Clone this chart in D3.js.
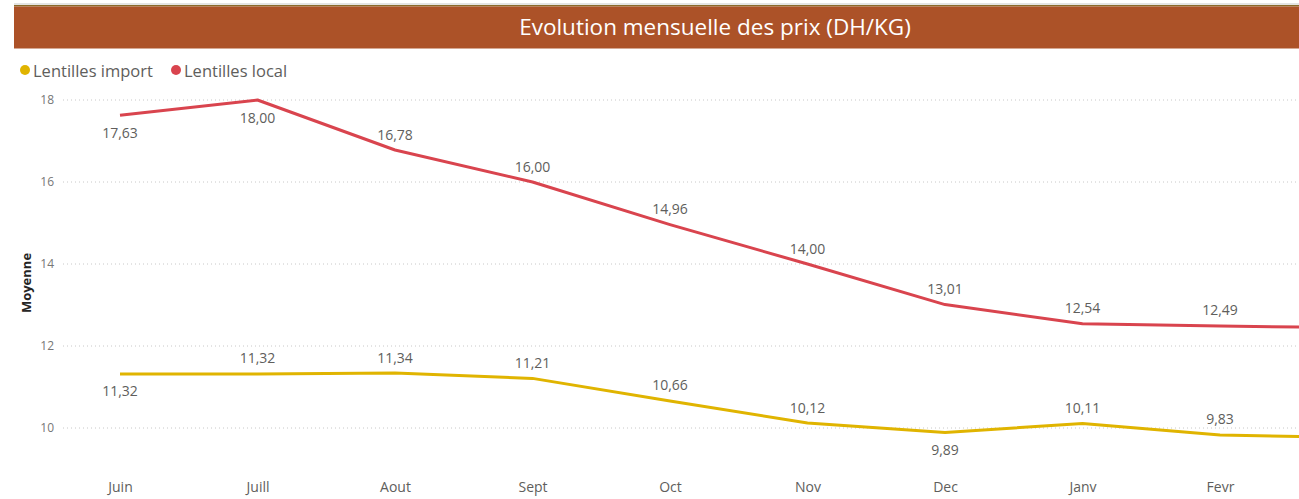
<!DOCTYPE html>
<html>
<head>
<meta charset="utf-8">
<script src="https://cdn.jsdelivr.net/npm/d3@7"></script>
<style>
  body { margin: 0; background: #fff; }
  text { font-family: "Segoe UI", "Open Sans", "Noto Sans", sans-serif; }
</style>
</head>
<body>
<div id="chart"></div>
<script>
// data (last month is cut off at the right edge)
var months = ["Juin", "Juill", "Aout", "Sept", "Oct", "Nov", "Dec", "Janv", "Fevr", "Mars"];
var importPrix = [11.32, 11.32, 11.34, 11.21, 10.66, 10.12, 9.89, 10.11, 9.83, 9.76];
var localPrix = [17.63, 18.00, 16.78, 16.00, 14.96, 14.00, 13.01, 12.54, 12.49, 12.44];
var yTicks = [10, 12, 14, 16, 18];
var seriesNames = ["Lentilles import", "Lentilles local"];
var colors = ["#E0B400", "#D9444E"];
// label placement: 1 = above point, -1 = below
var importPos = [-1, 1, 1, 1, 1, 1, -1, 1, 1, 1];
var localPos = [-1, -1, 1, 1, 1, 1, 1, 1, 1, 1];

var W = 1299, H = 499;
var svg = d3.select("#chart").append("svg")
  .attr("width", W)
  .attr("height", H);

// title bar
svg.append("rect").attr("x", 14).attr("y", 3).attr("width", W - 14).attr("height", 2.5).attr("fill", "#e4e4e4");
svg.append("rect").attr("x", 14).attr("y", 5).attr("width", W - 14).attr("height", 1.5).attr("fill", "#8a6a2a");
svg.append("rect").attr("x", 14).attr("y", 6.5).attr("width", W - 14).attr("height", 42).attr("fill", "#AC5228");
svg.append("text")
  .attr("x", 715).attr("y", 29)
  .attr("text-anchor", "middle")
  .attr("dominant-baseline", "middle")
  .attr("fill", "#fff")
  .style("font-size", "22.5px")
  .text("Evolution mensuelle des prix (DH/KG)");

// legend
var lx = [25, 176];
seriesNames.forEach(function(n, i) {
  svg.append("circle").attr("cx", lx[i]).attr("cy", 70).attr("r", 5).attr("fill", colors[i]);
  svg.append("text")
    .attr("x", lx[i] + 8).attr("y", 70)
    .attr("dominant-baseline", "central")
    .attr("fill", "#605E5C")
    .style("font-size", "16.5px")
    .text(n);
});

var x = d3.scalePoint()
  .domain(months)
  .range([120, 120 + 137.5 * (months.length - 1)]);

var y = d3.scaleLinear()
  .domain([10, 18])
  .range([428, 100]);

// only what falls inside the window gets a label
var visible = months.filter(function(m) { return x(m) < W - 20; });

// grid
svg.append("g").selectAll("line")
  .data(yTicks)
  .join("line")
  .attr("x1", 63).attr("x2", W)
  .attr("y1", function(d) { return y(d); })
  .attr("y2", function(d) { return y(d); })
  .attr("stroke", "#c8c8c8")
  .attr("stroke-width", 1)
  .attr("stroke-dasharray", "1,3");

var yAxis = svg.append("g")
  .attr("transform", "translate(54,0)")
  .call(d3.axisLeft(y).tickValues(yTicks).tickSize(0).tickPadding(0));
yAxis.select(".domain").remove();
yAxis.selectAll("text")
  .attr("fill", "#777")
  .style("font-size", "12px")
  .style("font-family", "'Segoe UI', 'Open Sans', sans-serif");

var xAxis = svg.append("g")
  .attr("transform", "translate(0,482)")
  .call(d3.axisBottom(x).tickValues(visible).tickSize(0).tickPadding(0));
xAxis.select(".domain").remove();
xAxis.selectAll("text")
  .attr("fill", "#605E5C")
  .style("font-size", "14px")
  .style("font-family", "'Segoe UI', 'Open Sans', sans-serif");

svg.append("text")
  .attr("transform", "translate(31,283) rotate(-90)")
  .attr("text-anchor", "middle")
  .attr("fill", "#252423")
  .style("font-size", "13px")
  .style("font-weight", "bold")
  .text("Moyenne");

var line = d3.line()
  .x(function(d, i) { return x(months[i]); })
  .y(function(d) { return y(d); });

[[importPrix, importPos], [localPrix, localPos]].forEach(function(s, k) {
  svg.append("path")
    .attr("d", line(s[0]))
    .attr("fill", "none")
    .attr("stroke", colors[k])
    .attr("stroke-width", 3)
    .attr("stroke-linejoin", "round");

  svg.append("g").selectAll("text")
    .data(s[0].slice(0, visible.length))
    .join("text")
    .attr("x", function(d, i) { return x(months[i]); })
    .attr("y", function(d, i) { return y(d) + (s[1][i] > 0 ? -16 : 17); })
    .attr("text-anchor", "middle")
    .attr("dominant-baseline", "central")
    .attr("fill", "#605E5C")
    .style("font-size", "14px")
    .text(function(d) { return d.toFixed(2).replace(".", ","); });
});
</script>
</body>
</html>
